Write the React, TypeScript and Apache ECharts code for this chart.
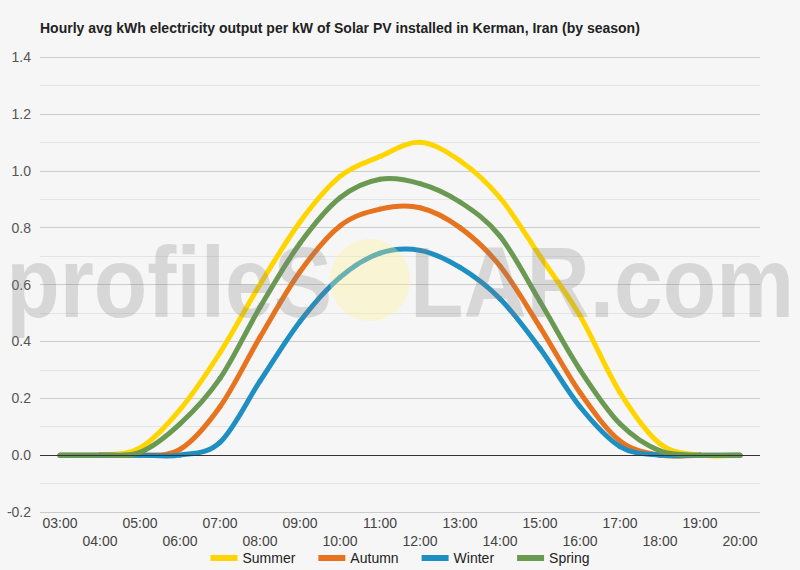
import React, { useEffect, useRef } from "react";
import * as echarts from "echarts";

const hours = ["03:00","04:00","05:00","06:00","07:00","08:00","09:00","10:00","11:00","12:00","13:00","14:00","15:00","16:00","17:00","18:00","19:00","20:00"];
const summer = [0, 0, 0.025, 0.16, 0.36, 0.6, 0.82, 0.98, 1.05, 1.1, 1.035, 0.905, 0.7, 0.49, 0.22, 0.04, 0, 0];
const autumn = [0, 0, 0, 0.02, 0.17, 0.415, 0.645, 0.806, 0.865, 0.87, 0.8, 0.665, 0.45, 0.22, 0.05, 0, 0, 0];
const winter = [0, 0, 0, 0, 0.045, 0.26, 0.47, 0.625, 0.71, 0.72, 0.66, 0.55, 0.375, 0.17, 0.03, 0, 0, 0];
const spring = [0, 0, 0.01, 0.11, 0.27, 0.52, 0.745, 0.905, 0.97, 0.955, 0.89, 0.77, 0.54, 0.3, 0.11, 0.015, 0, 0];

const seriesNames = ["Summer", "Autumn", "Winter", "Spring"];
const seriesData = [summer, autumn, winter, spring];
const seriesColors = ["#ffd500", "#e8731f", "#1e8fc2", "#6a9a52"];

const titleText = "Hourly avg kWh electricity output per kW of Solar PV installed in Kerman, Iran (by season)";

function makeSmoothSeries(name: string, arr: number[], color: string) {
  const n = arr.length;
  return {
    name,
    type: "custom",
    data: arr.map((v, i) => [i, v]),
    encode: { x: 0, y: 1 },
    itemStyle: { color },
    z: 3,
    renderItem: (params: any, api: any) => {
      const i = params.dataIndex;
      if (i >= n - 1) return { type: "group", children: [] };
      const pt = (k: number) => {
        const kk = Math.max(0, Math.min(n - 1, k));
        return api.coord([kk, arr[kk]]);
      };
      const p0 = pt(i - 1);
      const p1 = pt(i);
      const p2 = pt(i + 1);
      const p3 = pt(i + 2);
      const t = 1 / 6;
      return {
        type: "bezierCurve",
        shape: {
          x1: p1[0],
          y1: p1[1],
          cpx1: p1[0] + (p2[0] - p0[0]) * t,
          cpy1: p1[1] + (p2[1] - p0[1]) * t,
          cpx2: p2[0] - (p3[0] - p1[0]) * t,
          cpy2: p2[1] - (p3[1] - p1[1]) * t,
          x2: p2[0],
          y2: p2[1],
        },
        style: { stroke: color, lineWidth: 5, fill: "none", lineCap: "round" },
      };
    },
  };
}

export default function App() {
  const ref = useRef<HTMLDivElement>(null);
  useEffect(() => {
    if (!ref.current) return;
    const chart = echarts.init(ref.current, null, { renderer: "svg" });
    const series: any[] = [
      {
        name: "zero",
        type: "line",
        data: [],
        z: 2,
        markLine: {
          silent: true,
          symbol: "none",
          label: { show: false },
          lineStyle: { color: "#333", width: 1, type: "solid" },
          data: [{ yAxis: 0 }],
        },
      },
      ...seriesNames.map((name, i) => makeSmoothSeries(name, seriesData[i], seriesColors[i])),
    ];
    const wmStyle = {
      fontFamily: "Liberation Sans, Arial",
      fontSize: 100,
      fontWeight: "bold",
      fill: "rgba(128,128,128,0.26)",
      verticalAlign: "middle",
    };
    chart.setOption({
      animation: false,
      backgroundColor: "#f6f6f6",
      title: {
        text: titleText,
        left: 35,
        top: 16,
        textStyle: { fontFamily: "Liberation Sans, Arial", fontSize: 14, fontWeight: "bold", color: "#222" },
      },
      grid: { left: 40, right: 40, top: 57, bottom: 58 },
      legend: {
        data: seriesNames,
        top: 546,
        left: "center",
        icon: "rect",
        itemWidth: 27,
        itemHeight: 6,
        itemGap: 23,
        textStyle: { fontFamily: "Liberation Sans, Arial", fontSize: 14, color: "#222" },
      },
      xAxis: {
        type: "category",
        data: hours,
        boundaryGap: true,
        axisLine: { show: false },
        axisTick: { show: false },
        axisLabel: {
          interval: 0,
          hideOverlap: false,
          margin: 2,
          lineHeight: 18,
          fontFamily: "Liberation Sans, Arial",
          fontSize: 14,
          color: "#444",
          formatter: (v: string, i: number) => (i % 2 === 0 ? v : "\n" + v),
        },
      },
      yAxis: {
        type: "value",
        min: -0.2,
        max: 1.4,
        interval: 0.2,
        axisLine: { show: false },
        axisTick: { show: false },
        axisLabel: {
          margin: 9,
          fontFamily: "Liberation Sans, Arial",
          fontSize: 14,
          color: "#555",
          formatter: (v: number) => v.toFixed(1),
        },
        splitLine: { lineStyle: { color: "#cccccc" } },
        minorTick: { show: false, splitNumber: 2 },
        minorSplitLine: { show: true, lineStyle: { color: "#e4e4e4" } },
      },
      series,
      graphic: [
        {
          type: "ellipse",
          shape: { cx: 370, cy: 280, rx: 40, ry: 41 },
          style: { fill: "rgba(255,240,150,0.35)" },
          z: 100,
          silent: true,
        },
        {
          type: "text",
          x: 332,
          y: 282,
          scaleX: 0.875,
          style: { ...wmStyle, text: "profileS", align: "right" },
          z: 101,
          silent: true,
        },
        {
          type: "text",
          x: 410,
          y: 282,
          scaleX: 0.875,
          style: { ...wmStyle, text: "LAR.com", align: "left" },
          z: 101,
          silent: true,
        },
      ],
    });
    return () => chart.dispose();
  }, []);
  return <div ref={ref} style={{ position: "fixed", left: 0, top: 0, width: 800, height: 570 }} />;
}
